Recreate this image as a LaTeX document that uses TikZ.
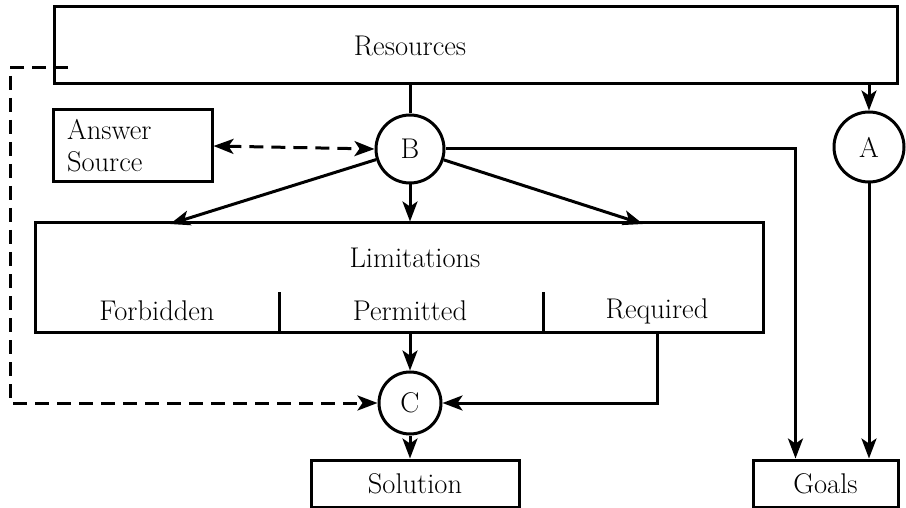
\documentclass[tikz,border=0pt]{standalone}
\usepackage{fontspec}
\usetikzlibrary{arrows.meta}
\tikzset{
  every node/.style={font=\fontsize{28.5}{32}\selectfont},
  box/.style={draw, line width=3pt, inner sep=0pt},
  circ/.style={draw, circle, line width=3pt, inner sep=0pt},
  tip/.tip={Stealth[length=20pt,width=15pt,inset=5pt]},
  arr/.style={line width=3pt, -tip},
  dasharr/.style={line width=3pt, dash pattern=on 14pt off 8pt},
}
\begin{document}
\begin{tikzpicture}[x=1pt, y=-1pt]
\useasboundingbox (0,0) rectangle (906,508);

% Boxes
\node[box, minimum width=843, minimum height=77] (res) at (475.5,45.5) {};
\node (restext) at (410,46) {Resources};
\node[box, minimum width=159, minimum height=72, text width=131, inner xsep=14pt, align=left] (ans) at (132.5,146) {Answer\\Source};
\node[box, minimum width=728, minimum height=109] (lim) at (399,277.5) {};
\node (limtext) at (415,258) {Limitations};
\node (forb) at (157,311) {Forbidden};
\node (perm) at (410,311) {Permitted};
\node (req) at (657,311) {Required};
\node[box, minimum width=208, minimum height=47] (sol) at (415,483.5) {Solution};
\node[box, minimum width=145, minimum height=47] (goals) at (825.5,483.5) {Goals};

% Circles
\node[circ, minimum size=68] (b) at (410,149) {B};
\node[circ, minimum size=70] (a) at (869,147) {A};
\node[circ, minimum size=62] (c) at (410,403) {C};

% Dividers
\coordinate (div1) at (279,292);
\coordinate (div2) at (543,292);
\draw[line width=3pt] (div1) -- (div1 |- lim.south);
\draw[line width=3pt] (div2) -- (div2 |- lim.south);

% Connectors
\coordinate (limL) at (170,224);
\coordinate (limR) at (643,224);
\coordinate (dstart) at (68,68);
\coordinate (dcorner) at (10,68);
\draw[line width=3pt] (b.north |- res.south) -- (b.north);
\draw[arr] (a.north |- res.south) -- (a.north);
\draw[dasharr, tip-tip] (ans.east) -- (b.west);
\draw[arr] (b) -- (limL);
\draw[arr] (b.south) -- (b.south |- lim.north);
\draw[arr] (b) -- (limR);
\draw[arr] (b.east) -| ([xshift=-30pt]goals.north);
\draw[arr] (a.south) -- (a.south |- goals.north);
\draw[arr] (c.north |- lim.south) -- (c.north);
\draw[arr] (req.south |- lim.south) |- (c.east);
\draw[arr] (c.south) -- (c.south |- sol.north);
\draw[dasharr, -tip] (dstart) -- (dcorner) |- (c.west);
\end{tikzpicture}
\end{document}
